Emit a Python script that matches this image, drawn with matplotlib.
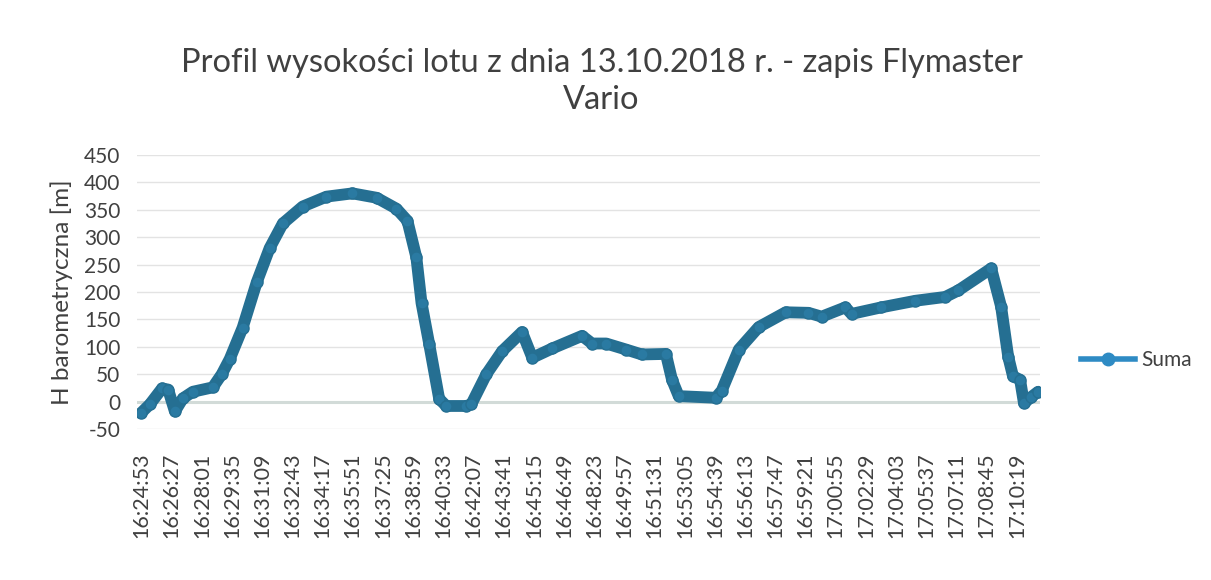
import matplotlib
matplotlib.use("Agg")
import matplotlib.pyplot as plt
from matplotlib.lines import Line2D
from datetime import datetime

plt.rcParams['font.family'] = ['Lato', 'DejaVu Sans']

title = "Profil wysokości lotu z dnia 13.10.2018 r. - zapis Flymaster\nVario"
ylabel = "H barometryczna [m]"
series_name = "Suma"

times = ["16:24:53", "16:25:19", "16:25:57", "16:26:16", "16:26:37", "16:27:02",
         "16:27:33", "16:28:35", "16:29:03", "16:29:28", "16:30:08", "16:30:52",
         "16:31:32", "16:32:13", "16:33:15", "16:34:29", "16:35:50", "16:37:05",
         "16:38:07", "16:38:41", "16:39:09", "16:39:25", "16:39:49", "16:40:20",
         "16:40:42", "16:41:44", "16:42:00", "16:42:47", "16:43:36", "16:44:38",
         "16:45:10", "16:46:12", "16:47:45", "16:48:16", "16:49:00", "16:50:02",
         "16:50:51", "16:52:06", "16:52:25", "16:52:46", "16:54:41", "16:55:00",
         "16:55:53", "16:56:55", "16:58:19", "16:59:30", "17:00:11", "17:01:25",
         "17:01:44", "17:03:17", "17:05:03", "17:06:36", "17:07:17", "17:08:59",
         "17:09:30", "17:09:52", "17:10:07", "17:10:29", "17:10:41", "17:11:03",
         "17:11:25"]
heights = [-20, -5, 24, 22, -18, 6,
           18, 26, 50, 78, 135, 218,
           280, 325, 356, 374, 380, 372,
           352, 330, 263, 180, 105, 5,
           -8, -8, -5, 50, 92, 127,
           80, 97, 120, 106, 106, 95,
           86, 87, 40, 10, 7, 20,
           95, 136, 163, 162, 155, 172,
           160, 172, 184, 191, 203, 243,
           173, 82, 46, 40, -3, 8,
           18]

tick_labels = ["16:24:53", "16:26:27", "16:28:01", "16:29:35", "16:31:09", "16:32:43",
               "16:34:17", "16:35:51", "16:37:25", "16:38:59", "16:40:33", "16:42:07",
               "16:43:41", "16:45:15", "16:46:49", "16:48:23", "16:49:57", "16:51:31",
               "16:53:05", "16:54:39", "16:56:13", "16:57:47", "16:59:21", "17:00:55",
               "17:02:29", "17:04:03", "17:05:37", "17:07:11", "17:08:45", "17:10:19"]
y_ticks = [-50, 0, 50, 100, 150, 200, 250, 300, 350, 400, 450]

fmt = "%H:%M:%S"
t0 = datetime.strptime(times[0], fmt)
def secs(s):
    return (datetime.strptime(s, fmt) - t0).total_seconds()

x = [secs(s) for s in times]
xt = [secs(s) for s in tick_labels]

fig = plt.figure(figsize=(12.11, 5.80), dpi=100)
ax = fig.add_axes([137/1211, 1 - 429/580, (1040 - 137)/1211, (429 - 155)/580])

line_color = '#256f92'
ax.plot(x, heights, color=line_color, lw=8.5, marker='o', ms=8,
        mfc='#2a7aa2', mec=line_color, solid_capstyle='round',
        solid_joinstyle='round', zorder=3)

ax.set_xlim(-14, 2798)
ax.set_ylim(-50, 450)
ax.set_yticks(y_ticks)
ax.set_yticklabels([str(v) for v in y_ticks], fontsize=15, color='#404040')
ax.set_xticks(xt)
ax.set_xticklabels(tick_labels, rotation=90, fontsize=15.5, color='#404040')
ax.tick_params(axis='both', length=0)
ax.tick_params(axis='x', pad=17)
ax.tick_params(axis='y', pad=12)
for sp in ax.spines.values():
    sp.set_visible(False)
ax.grid(axis='y', color='#e3e3e3', lw=1)
ax.grid(axis='x', visible=False)
ax.axhline(0, color='#d2dbd8', lw=2.2, zorder=1)
ax.set_axisbelow(True)

ax.set_ylabel(ylabel, fontsize=17.5, color='#404040', labelpad=8)
fig.text(601.5/1211, 0.86, title, ha='center', va='center', fontsize=23.5,
         color='#404040', linespacing=1.3)

handle = Line2D([], [], color='#2e8bc4', lw=4, marker='o', ms=9,
                mfc='#2e8bc4', mec='#2e8bc4')
fig.legend([handle], [series_name], loc='center left',
           bbox_to_anchor=(1062/1211, 1 - 360/580), frameon=False,
           fontsize=15, handlelength=2.6, handletextpad=0.3,
           labelcolor='#404040')

fig.savefig("out.png", dpi=100, facecolor='white')
